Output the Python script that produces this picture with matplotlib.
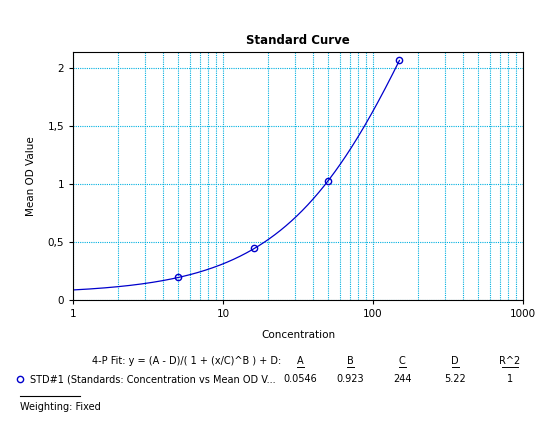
import numpy as np
import matplotlib
matplotlib.use("Agg")
import matplotlib.pyplot as plt
from matplotlib.ticker import FuncFormatter, LogLocator, FixedLocator

conc = [5, 16, 50, 150]
od = [0.20, 0.45, 1.03, 2.07]
A, B, C, D = 0.0546, 0.923, 244, 5.22
params = ["0.0546", "0.923", "244", "5.22", "1"]
headers = ["A", "B", "C", "D", "R^2"]

plt.rcParams['font.family'] = ['DejaVu Sans']
fig = plt.figure(figsize=(5.52, 4.25), dpi=100)
ax = fig.add_axes([73/552, 125/425, 450/552, 248/425])

xs = np.logspace(0, np.log10(150), 300)
ax.plot(xs, (A - D) / (1 + (xs / C) ** B) + D, color='#0000cc', lw=0.9)
ax.plot(conc, od, 'o', mfc='none', mec='#0000cc', ms=4.5, mew=1)

ax.set_xscale('log')
ax.set_xlim(1, 1000)
ax.set_ylim(0, 2.14)
ax.xaxis.set_major_locator(FixedLocator([1, 10, 100, 1000]))
ax.xaxis.set_minor_locator(LogLocator(base=10, subs=np.arange(2, 10)))
ax.xaxis.set_major_formatter(FuncFormatter(lambda v, p: f"{int(v)}"))
ax.set_yticks([0, 0.5, 1, 1.5, 2])
ax.yaxis.set_major_formatter(FuncFormatter(lambda v, p: f"{v:g}".replace('.', ',')))
ax.grid(True, which='both', axis='x', color='#00b0e0', ls=(0, (1, 1)), lw=0.8)
ax.grid(True, which='major', axis='y', color='#00b0e0', ls=(0, (1, 1)), lw=0.8)
ax.tick_params(labelsize=7.5, length=3)
ax.tick_params(which='minor', length=0)
for s in ax.spines.values():
    s.set_linewidth(0.8)
ax.set_title("Standard Curve", fontsize=8.5, fontweight='bold', pad=6)
ax.set_xlabel("Concentration", fontsize=7.5, labelpad=8)
ax.set_ylabel("Mean OD Value", fontsize=7.5, labelpad=8)

fs = 7
fig.text(92/552, 1-361/425, "4-P Fit: y = (A - D)/( 1 + (x/C)^B ) + D:", fontsize=fs, va='center')
xs_col = [300, 350, 402, 455, 510]
widths = [7, 7, 7, 7, 16]
for x, w, h, v in zip(xs_col, widths, headers, params):
    fig.text(x/552, 1-361/425, h, fontsize=fs, va='center', ha='center')
    fig.lines.append(plt.Line2D([(x - w/2)/552, (x + w/2)/552], [1-367/425]*2, color='black',
                                lw=0.7, transform=fig.transFigure))
    fig.text(x/552, 1-379/425, v, fontsize=fs, va='center', ha='center')
fig.lines.append(plt.Line2D([20/552], [1-379/425], marker='o', mfc='none', mec='#0000cc',
                            ms=4.5, mew=1, transform=fig.transFigure))
fig.text(30/552, 1-379/425, "STD#1 (Standards: Concentration vs Mean OD V...", fontsize=fs, va='center')
fig.lines.append(plt.Line2D([20/552, 80/552], [1-396/425]*2, color='black', lw=0.8,
                            transform=fig.transFigure))
fig.text(20/552, 1-407/425, "Weighting: Fixed", fontsize=fs, va='center')

fig.savefig("out.png", dpi=100)
